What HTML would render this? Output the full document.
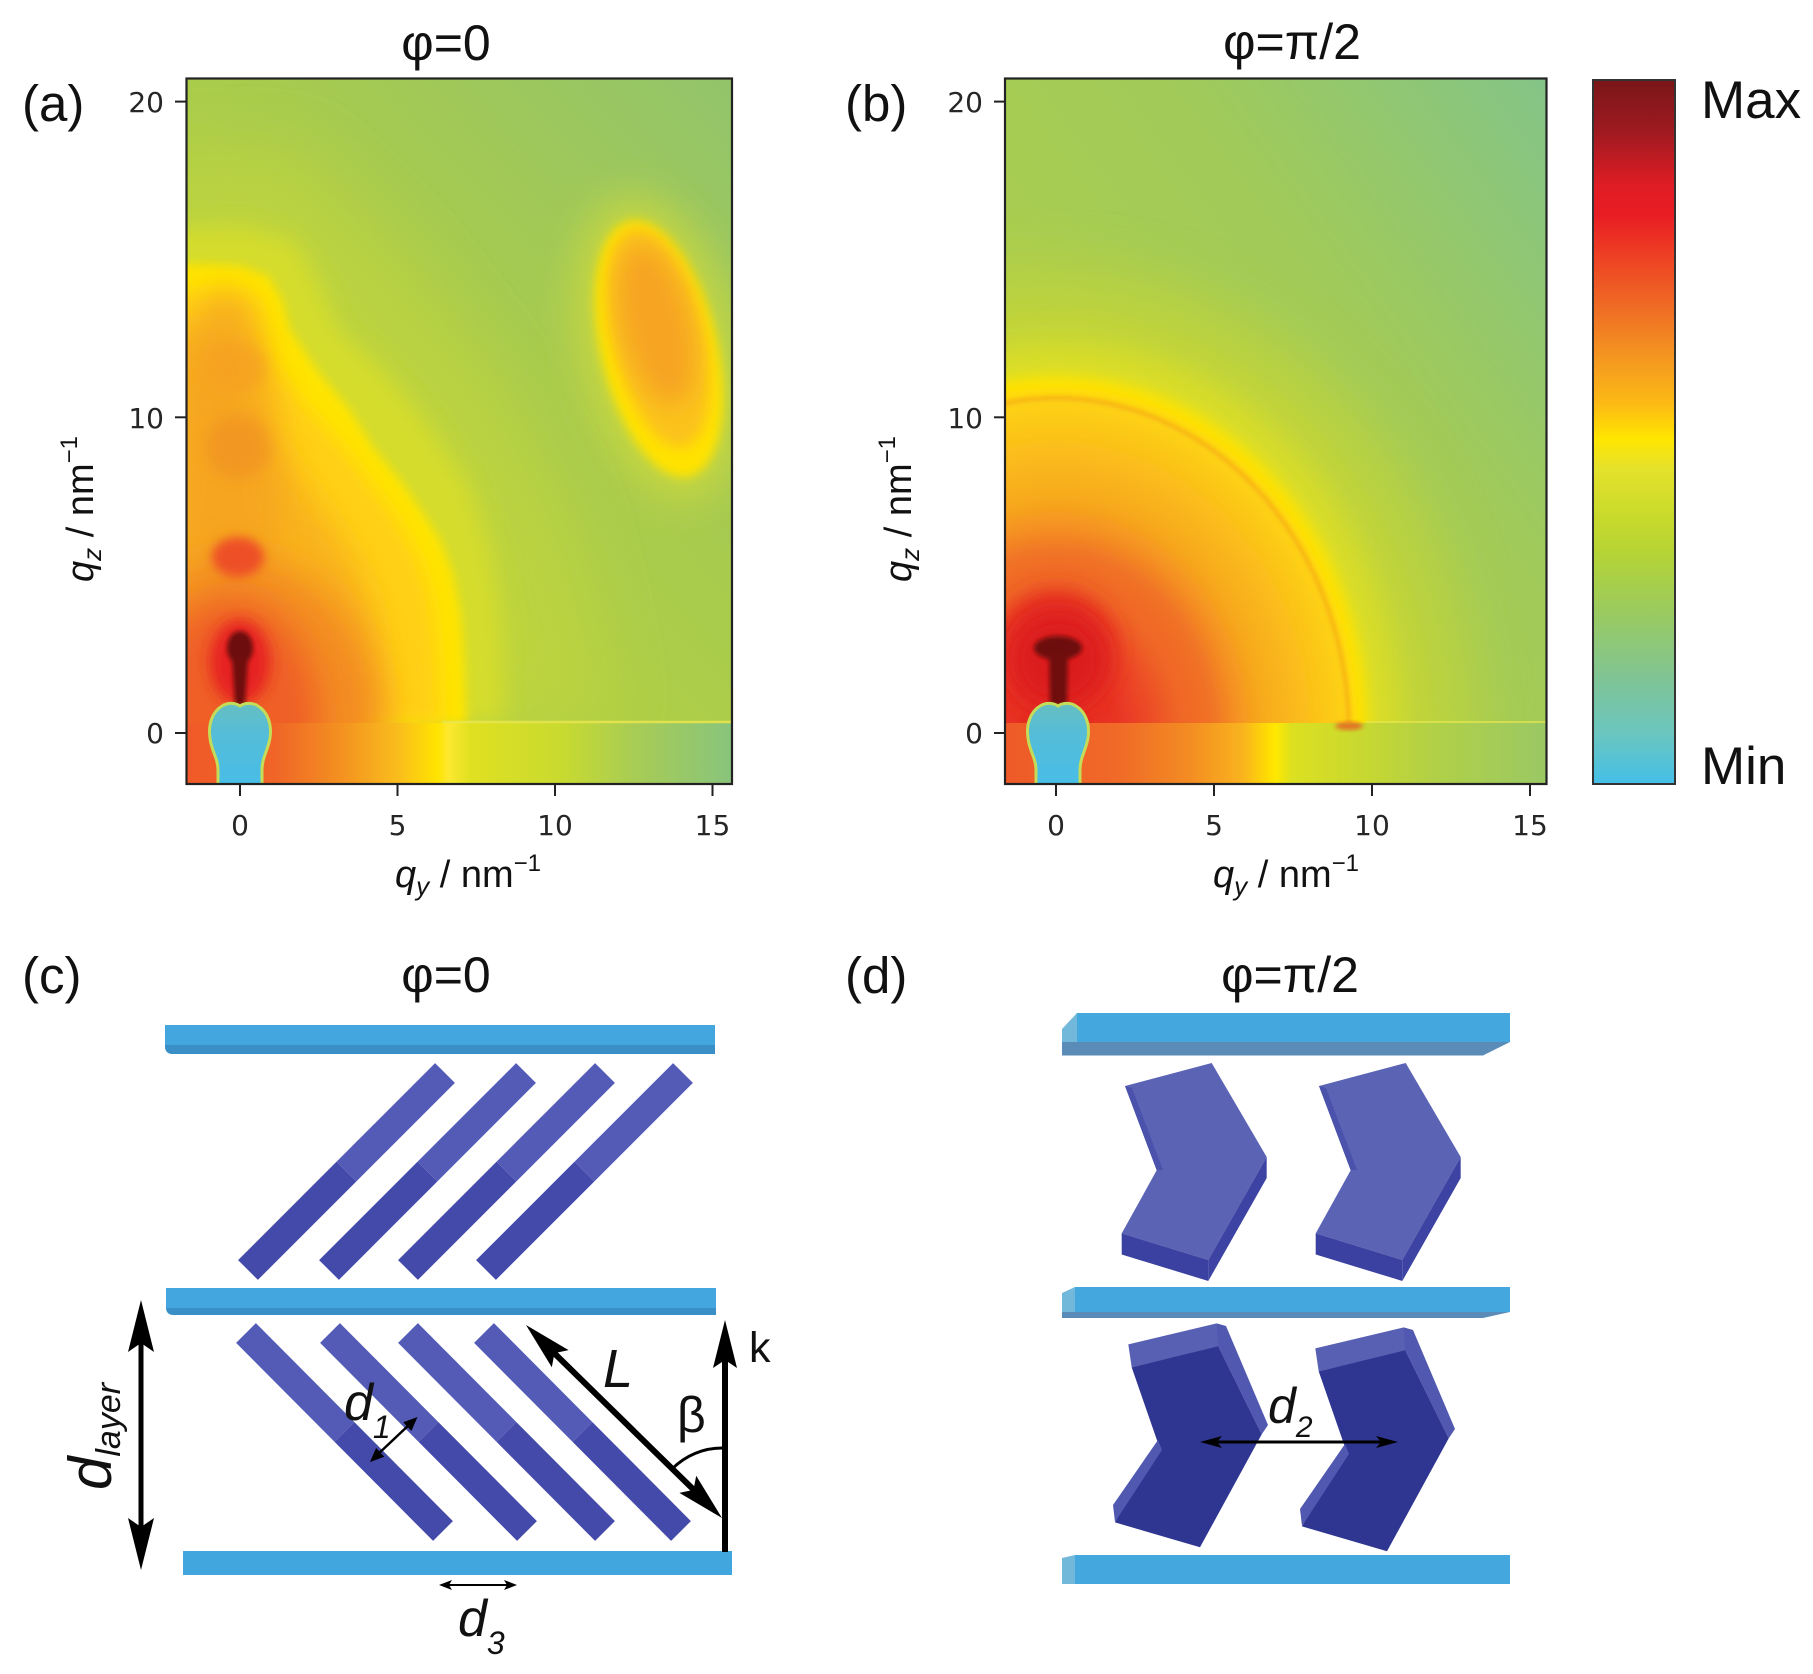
<!DOCTYPE html>
<html><head><meta charset="utf-8"><style>
html,body{margin:0;padding:0;background:#fff;overflow:hidden;}
svg{display:block;}
text{font-family:"Liberation Sans","DejaVu Sans",sans-serif;fill:#111;}
.tk{font-family:"DejaVu Sans","Liberation Sans",sans-serif;font-size:28px;fill:#262626;}
</style></head><body>
<svg width="1813" height="1674" viewBox="0 0 1813 1674" xmlns="http://www.w3.org/2000/svg">
<defs>
<clipPath id="clipA"><rect x="186.5" y="78.5" width="545.5" height="705.5"/></clipPath>
<clipPath id="clipB"><rect x="1005" y="78.5" width="541.5" height="705.5"/></clipPath>
<filter id="b2" x="-30%" y="-30%" width="160%" height="160%"><feGaussianBlur stdDeviation="2"/></filter>
<filter id="b3" x="-30%" y="-30%" width="160%" height="160%"><feGaussianBlur stdDeviation="3.5"/></filter>
<filter id="b5" x="-30%" y="-30%" width="160%" height="160%"><feGaussianBlur stdDeviation="5"/></filter>
<filter id="b7" x="-30%" y="-30%" width="160%" height="160%"><feGaussianBlur stdDeviation="7"/></filter>
<filter id="b10" x="-30%" y="-30%" width="160%" height="160%"><feGaussianBlur stdDeviation="10"/></filter>
<filter id="b12" x="-40%" y="-40%" width="180%" height="180%"><feGaussianBlur stdDeviation="12"/></filter>
<filter id="b16" x="-40%" y="-40%" width="180%" height="180%"><feGaussianBlur stdDeviation="16"/></filter>
<filter id="b20" x="-40%" y="-40%" width="180%" height="180%"><feGaussianBlur stdDeviation="20"/></filter>
<filter id="b30" x="-50%" y="-50%" width="200%" height="200%"><feGaussianBlur stdDeviation="30"/></filter>
<linearGradient id="baseA" x1="1" y1="0" x2="0.3" y2="0.85">
<stop offset="0" stop-color="#92c46c"/><stop offset="0.5" stop-color="#a8cb4e"/><stop offset="1" stop-color="#b6d23e"/></linearGradient>
<linearGradient id="baseB" x1="1" y1="0" x2="0.2" y2="0.75">
<stop offset="0" stop-color="#82c48a"/><stop offset="0.45" stop-color="#a0ca5a"/><stop offset="1" stop-color="#aece4a"/></linearGradient>
<linearGradient id="stripA" x1="186.5" y1="0" x2="732" y2="0" gradientUnits="userSpaceOnUse">
<stop offset="0" stop-color="#f05a28"/><stop offset="0.16" stop-color="#f06428"/><stop offset="0.28" stop-color="#f39020"/>
<stop offset="0.39" stop-color="#fabe1c"/><stop offset="0.46" stop-color="#ffe400"/><stop offset="0.48" stop-color="#fde830"/>
<stop offset="0.52" stop-color="#e0e020"/><stop offset="0.69" stop-color="#c8da30"/><stop offset="0.82" stop-color="#a8cc54"/>
<stop offset="1" stop-color="#88c47c"/></linearGradient>
<linearGradient id="stripB" x1="1005" y1="0" x2="1546.5" y2="0" gradientUnits="userSpaceOnUse">
<stop offset="0" stop-color="#ee5a28"/><stop offset="0.21" stop-color="#f06a28"/><stop offset="0.34" stop-color="#f38c22"/>
<stop offset="0.44" stop-color="#f9b41e"/><stop offset="0.49" stop-color="#ffe000"/><stop offset="0.5" stop-color="#ffe800"/>
<stop offset="0.53" stop-color="#dce020"/><stop offset="0.66" stop-color="#c8d830"/><stop offset="0.8" stop-color="#b0d048"/>
<stop offset="1" stop-color="#9ac864"/></linearGradient>
<radialGradient id="radB" cx="1056" cy="733" r="357" gradientUnits="userSpaceOnUse" gradientTransform="translate(1056 733) scale(0.874 1) translate(-1056 -733)">
<stop offset="0" stop-color="#e4281f"/><stop offset="0.2" stop-color="#e83424"/><stop offset="0.3" stop-color="#ec4a28"/>
<stop offset="0.4" stop-color="#f06828"/><stop offset="0.5" stop-color="#f07028"/><stop offset="0.56" stop-color="#f48a22"/>
<stop offset="0.65" stop-color="#f7a81e"/><stop offset="0.8" stop-color="#fbbe1a"/><stop offset="0.92" stop-color="#fdd016"/>
<stop offset="1" stop-color="#ffe000"/></radialGradient>
<linearGradient id="cyan" x1="0" y1="0" x2="0" y2="1">
<stop offset="0" stop-color="#66bec0"/><stop offset="0.35" stop-color="#55bdd8"/><stop offset="1" stop-color="#46bde8"/></linearGradient>
<linearGradient id="cbar" x1="0" y1="0" x2="0" y2="1">
<stop offset="0" stop-color="#7a1618"/><stop offset="0.07" stop-color="#9c1a20"/><stop offset="0.15" stop-color="#e01c24"/>
<stop offset="0.19" stop-color="#e81c24"/><stop offset="0.25" stop-color="#ee4024"/><stop offset="0.33" stop-color="#ef7024"/>
<stop offset="0.40" stop-color="#f59a20"/><stop offset="0.46" stop-color="#fcba14"/><stop offset="0.51" stop-color="#ffe600"/>
<stop offset="0.55" stop-color="#e6e22a"/><stop offset="0.62" stop-color="#c8da2c"/><stop offset="0.67" stop-color="#b6d434"/>
<stop offset="0.75" stop-color="#9ccb5c"/><stop offset="0.85" stop-color="#7fc494"/><stop offset="0.93" stop-color="#6ac6c0"/>
<stop offset="1" stop-color="#44bfe8"/></linearGradient>
</defs>
<rect width="1813" height="1674" fill="#fff"/>

<!-- ============ PANEL A heatmap ============ -->
<g clip-path="url(#clipA)">
<rect x="180" y="70" width="560" height="720" fill="url(#baseA)"/>
<polygon points="161,150 300,150 400,250 500,380 570,520 600,650 610,723.5 161,723.5" fill="#c4d63a" opacity="0.6" filter="url(#b30)"/>
<polygon points="161,228 245,226 295,240 318,280 340,330 375,360 410,400 440,440 470,485 490,545 500,600 503,650 505,723.5 161,723.5" fill="#d8de2a" opacity="0.9" filter="url(#b12)"/>
<polygon points="161,723.5 161,266 200,264 240,266 268,276 282,300 290,330 319,373 350,410 372.7,446.7 400,480 419,507 440,540 452.7,573 460,610 463,640 466,707 467,723.5" fill="#ffe400" filter="url(#b5)"/>
<polygon points="161,723.5 161,292 240,292 258,300 262,330 268,360 300,398 350,455 395,515 420,560 432,600 438,650 441,723.5" fill="#ffd012" filter="url(#b10)"/>
<polygon points="161,723.5 161,330 230,330 236,360 245,400 280,450 330,520 360,570 375,620 380,680 382,723.5" fill="#f9b41c" filter="url(#b16)"/>
<ellipse cx="225" cy="480" rx="55" ry="190" fill="#f4a020" opacity="0.7" filter="url(#b16)"/>
<ellipse cx="238" cy="447" rx="32" ry="32" fill="#f29424" opacity="0.8" filter="url(#b7)"/>
<ellipse cx="236" cy="367" rx="30" ry="25" fill="#f5a020" opacity="0.7" filter="url(#b7)"/>
<ellipse cx="240" cy="720" rx="140" ry="160" fill="#f38a22" filter="url(#b20)"/>
<ellipse cx="232" cy="720" rx="85" ry="120" fill="#ef5e28" filter="url(#b16)"/>
<ellipse cx="240" cy="662" rx="30" ry="42" fill="#e62222" filter="url(#b7)"/>
<ellipse cx="238" cy="557" rx="26" ry="20" fill="#ee5028" filter="url(#b5)"/>
<!-- upper right ellipse -->
<g transform="rotate(-13.3 659 349)">
<ellipse cx="659" cy="349" rx="80" ry="156" fill="#cfd93a" opacity="0.8" filter="url(#b20)"/>
<ellipse cx="659" cy="349" rx="58" ry="131" fill="#ffe200" filter="url(#b5)"/>
<ellipse cx="661" cy="338" rx="46" ry="112" fill="#fbc21c" filter="url(#b7)"/>
<ellipse cx="662" cy="325" rx="34" ry="82" fill="#f6a420" filter="url(#b12)"/>
</g>
<!-- beam stop / specular -->
<g filter="url(#b2)">
<ellipse cx="240" cy="648" rx="13" ry="17" fill="#6e1010"/>
<path d="M232 658 L248 658 L245 706 L235 706 Z" fill="#701010"/>
</g>
<!-- lower strip -->
<rect x="180" y="723" width="560" height="70" fill="url(#stripA)"/>
<line x1="442" y1="722" x2="735" y2="722" stroke="#ece850" stroke-width="2.5" opacity="0.8"/>
<path d="M222 706 C228 702,236 703,240 706 C244 703,252 702,258 706 C268 712,272 725,270 738 C268 750,262 758,262 770 L262 790 L218 790 L218 770 C218 758,211 750,210 738 C208 725,212 712,222 706 Z" fill="url(#cyan)" stroke="#c4dc58" stroke-width="3"/>
</g>
<rect x="186.5" y="78.5" width="545.5" height="705.5" fill="none" stroke="#222" stroke-width="2.2"/>

<!-- ============ PANEL B heatmap ============ -->
<g clip-path="url(#clipB)">
<rect x="1000" y="70" width="560" height="720" fill="url(#baseB)"/>
<ellipse cx="1056" cy="733" rx="415" ry="460" fill="#c6d636" opacity="0.75" filter="url(#b30)"/>
<ellipse cx="1056" cy="733" rx="345" ry="392" fill="#e2e024" opacity="0.8" filter="url(#b16)"/>
<ellipse cx="1056" cy="733" rx="312" ry="357" fill="#ffe400" filter="url(#b7)"/>
<ellipse cx="1056" cy="733" rx="300" ry="344" fill="url(#radB)" filter="url(#b7)"/>
<ellipse cx="1056" cy="733" rx="293" ry="335" fill="none" stroke="#ee7a26" stroke-width="4" opacity="0.4" filter="url(#b2)"/>
<ellipse cx="1056" cy="650" rx="60" ry="60" fill="#e42a22" filter="url(#b12)"/>
<ellipse cx="1058" cy="660" rx="48" ry="48" fill="#dc1c1e" filter="url(#b12)"/>
<g filter="url(#b2)">
<ellipse cx="1058" cy="648" rx="24" ry="12" fill="#6e1010"/>
<path d="M1049 652 L1068 652 L1067 706 L1050 706 Z" fill="#701010"/>
</g>
<rect x="1000" y="723" width="560" height="70" fill="url(#stripB)"/>
<line x1="1366" y1="722" x2="1550" y2="722" stroke="#e6e650" stroke-width="2" opacity="0.7"/>
<ellipse cx="1349" cy="726" rx="14" ry="4" fill="#e85a22" opacity="0.8" filter="url(#b2)"/>
<path d="M1040 706 C1046 702,1054 703,1058 706 C1062 703,1070 702,1076 706 C1086 712,1090 725,1088 738 C1086 750,1080 758,1080 770 L1080 790 L1036 790 L1036 770 C1036 758,1029 750,1028 738 C1026 725,1030 712,1040 706 Z" fill="url(#cyan)" stroke="#c4dc58" stroke-width="3"/>
</g>
<rect x="1005" y="78.5" width="541.5" height="705.5" fill="none" stroke="#222" stroke-width="2.2"/>

<!-- colorbar -->
<rect x="1593" y="80" width="82" height="704" fill="url(#cbar)" stroke="#333" stroke-width="2"/>
<text x="1701" y="118" font-size="53">Max</text>
<text x="1701" y="784" font-size="53">Min</text>

<!-- ticks -->
<g stroke="#222" stroke-width="2">
<line x1="175" y1="101.6" x2="186.5" y2="101.6"/><line x1="175" y1="417.3" x2="186.5" y2="417.3"/><line x1="175" y1="733" x2="186.5" y2="733"/>
<line x1="240" y1="784" x2="240" y2="796"/><line x1="397.5" y1="784" x2="397.5" y2="796"/><line x1="555" y1="784" x2="555" y2="796"/><line x1="712.5" y1="784" x2="712.5" y2="796"/>
<line x1="994" y1="101.6" x2="1005" y2="101.6"/><line x1="994" y1="417.3" x2="1005" y2="417.3"/><line x1="994" y1="733" x2="1005" y2="733"/>
<line x1="1056" y1="784" x2="1056" y2="796"/><line x1="1214" y1="784" x2="1214" y2="796"/><line x1="1372" y1="784" x2="1372" y2="796"/><line x1="1530" y1="784" x2="1530" y2="796"/>
</g>
<g class="tk">
<text class="tk" x="164" y="112" text-anchor="end">20</text>
<text class="tk" x="164" y="428" text-anchor="end">10</text>
<text class="tk" x="164" y="743" text-anchor="end">0</text>
<text class="tk" x="240" y="835" text-anchor="middle">0</text>
<text class="tk" x="397.5" y="835" text-anchor="middle">5</text>
<text class="tk" x="555" y="835" text-anchor="middle">10</text>
<text class="tk" x="712.5" y="835" text-anchor="middle">15</text>
<text class="tk" x="983" y="112" text-anchor="end">20</text>
<text class="tk" x="983" y="428" text-anchor="end">10</text>
<text class="tk" x="983" y="743" text-anchor="end">0</text>
<text class="tk" x="1056" y="835" text-anchor="middle">0</text>
<text class="tk" x="1214" y="835" text-anchor="middle">5</text>
<text class="tk" x="1372" y="835" text-anchor="middle">10</text>
<text class="tk" x="1530" y="835" text-anchor="middle">15</text>
</g>

<!-- axis labels -->
<text x="395" y="887" font-size="38"><tspan font-style="italic">q</tspan><tspan font-size="26" dy="8" font-style="italic">y</tspan><tspan dy="-8"> / nm</tspan><tspan font-size="24" dy="-16">−1</tspan></text>
<text x="1213" y="887" font-size="38"><tspan font-style="italic">q</tspan><tspan font-size="26" dy="8" font-style="italic">y</tspan><tspan dy="-8"> / nm</tspan><tspan font-size="24" dy="-16">−1</tspan></text>
<text transform="translate(93 582) rotate(-90)" font-size="38"><tspan font-style="italic">q</tspan><tspan font-size="26" dy="8" font-style="italic">z</tspan><tspan dy="-8"> / nm</tspan><tspan font-size="24" dy="-16">−1</tspan></text>
<text transform="translate(911 582) rotate(-90)" font-size="38"><tspan font-style="italic">q</tspan><tspan font-size="26" dy="8" font-style="italic">z</tspan><tspan dy="-8"> / nm</tspan><tspan font-size="24" dy="-16">−1</tspan></text>

<!-- titles & panel labels -->
<text x="446" y="60" font-size="50" text-anchor="middle">φ=0</text>
<text x="1292" y="59" font-size="50" text-anchor="middle">φ=π/2</text>
<text x="446" y="992" font-size="50" text-anchor="middle">φ=0</text>
<text x="1290" y="992" font-size="50" text-anchor="middle">φ=π/2</text>
<text x="22" y="121" font-size="51">(a)</text>
<text x="845" y="121" font-size="51">(b)</text>
<text x="22" y="993" font-size="51">(c)</text>
<text x="845" y="993" font-size="51">(d)</text>

<!-- ============ PANEL C ============ -->
<path d="M165 1025 H715 V1054 H173 Q165 1054 165 1046 Z" fill="#43a6de"/>
<path d="M165 1045 H715 V1054 H173 Q165 1054 165 1046 Z" fill="#3a8fc6"/>
<path d="M166 1288 H716 V1315 H174 Q166 1315 166 1307 Z" fill="#43a6de"/>
<path d="M166 1308 H716 V1315 H174 Q166 1315 166 1307 Z" fill="#3a8fc6"/>
<rect x="183" y="1551" width="549" height="24" fill="#42a6de"/>

<g>
<polygon points="-9.9,1260.1 9.9,1279.9 108.4,1181.4 88.6,1161.6" fill="#434aa9" transform="translate(248 0)"/>
<polygon points="88.6,1161.6 108.4,1181.4 206.9,1082.9 187.1,1063.1" fill="#535bb6" transform="translate(248 0)"/>
<polygon points="-9.9,1260.1 9.9,1279.9 108.4,1181.4 88.6,1161.6" fill="#434aa9" transform="translate(329 0)"/>
<polygon points="88.6,1161.6 108.4,1181.4 206.9,1082.9 187.1,1063.1" fill="#535bb6" transform="translate(329 0)"/>
<polygon points="-9.9,1260.1 9.9,1279.9 108.4,1181.4 88.6,1161.6" fill="#434aa9" transform="translate(408 0)"/>
<polygon points="88.6,1161.6 108.4,1181.4 206.9,1082.9 187.1,1063.1" fill="#535bb6" transform="translate(408 0)"/>
<polygon points="-9.9,1260.1 9.9,1279.9 108.4,1181.4 88.6,1161.6" fill="#434aa9" transform="translate(486 0)"/>
<polygon points="88.6,1161.6 108.4,1181.4 206.9,1082.9 187.1,1063.1" fill="#535bb6" transform="translate(486 0)"/>
</g>
<g>
<polygon points="9.9,1323.1 -9.9,1342.9 88.6,1441.9 108.4,1422.1" fill="#535bb6" transform="translate(246 0)"/>
<polygon points="88.6,1441.9 108.4,1422.1 206.9,1521.1 187.1,1540.9" fill="#434aa9" transform="translate(246 0)"/>
<polygon points="9.9,1323.1 -9.9,1342.9 88.6,1441.9 108.4,1422.1" fill="#535bb6" transform="translate(330 0)"/>
<polygon points="88.6,1441.9 108.4,1422.1 206.9,1521.1 187.1,1540.9" fill="#434aa9" transform="translate(330 0)"/>
<polygon points="9.9,1323.1 -9.9,1342.9 88.6,1441.9 108.4,1422.1" fill="#535bb6" transform="translate(408 0)"/>
<polygon points="88.6,1441.9 108.4,1422.1 206.9,1521.1 187.1,1540.9" fill="#434aa9" transform="translate(408 0)"/>
<polygon points="9.9,1323.1 -9.9,1342.9 88.6,1441.9 108.4,1422.1" fill="#535bb6" transform="translate(484 0)"/>
<polygon points="88.6,1441.9 108.4,1422.1 206.9,1521.1 187.1,1540.9" fill="#434aa9" transform="translate(484 0)"/>
</g>

<!-- d_layer arrow -->
<line x1="141" y1="1340" x2="141" y2="1530" stroke="#000" stroke-width="5"/>
<polygon points="141,1300 128,1352 141,1343 154,1352" fill="#000"/>
<polygon points="141,1570 128,1518 141,1527 154,1518" fill="#000"/>
<text transform="translate(111 1490) rotate(-90)" font-size="60" font-style="italic">d<tspan font-size="34" dy="9">layer</tspan></text>

<!-- k arrow -->
<line x1="725" y1="1360" x2="725" y2="1552" stroke="#000" stroke-width="6"/>
<polygon points="725,1320 713,1368 725,1360 737,1368" fill="#000"/>
<text x="749" y="1362" font-size="43">k</text>

<!-- L arrow -->
<line x1="550" y1="1349" x2="698" y2="1494" stroke="#000" stroke-width="6"/>
<polygon points="526,1325 551.8,1367.2 554.5,1353.1 568.6,1350.1" fill="#000"/>
<polygon points="722,1518 679.4,1492.9 693.5,1489.9 696.2,1475.8" fill="#000"/>
<text x="603" y="1387" font-size="54" font-style="italic">L</text>

<!-- beta arc -->
<path d="M672.5 1468.5 A70 70 0 0 1 722 1448" fill="none" stroke="#000" stroke-width="3"/>
<text x="677" y="1432" font-size="50">β</text>

<!-- d1 -->
<line x1="376" y1="1456" x2="411" y2="1423" stroke="#000" stroke-width="2.5"/>
<polygon points="370,1462 384.3,1456.8 380.2,1452.4 376.1,1448" fill="#000"/>
<polygon points="417.5,1417 411.4,1431 407.3,1426.6 403.2,1422.2" fill="#000"/>
<text x="344" y="1420" font-size="52" font-style="italic">d<tspan font-size="32" dy="18">1</tspan></text>

<!-- d3 -->
<line x1="447" y1="1585" x2="509" y2="1585" stroke="#000" stroke-width="2"/>
<polygon points="439,1585 452,1580 449,1585 452,1590" fill="#000"/>
<polygon points="517,1585 504,1580 507,1585 504,1590" fill="#000"/>
<text x="458" y="1636" font-size="52" font-style="italic">d<tspan font-size="32" dy="18">3</tspan></text>

<!-- ============ PANEL D ============ -->
<rect x="1077" y="1013" width="433" height="29" fill="#44a7de"/>
<polygon points="1062,1042 1510,1042 1483,1055.5 1062,1055.5" fill="#5b8cb8"/>
<polygon points="1062,1029 1077,1013 1077,1042 1062,1042" fill="#72b8da"/>
<rect x="1075" y="1287" width="435" height="25" fill="#44a7de"/>
<polygon points="1062,1312 1510,1312 1483,1318 1062,1318" fill="#5b8cb8"/>
<polygon points="1062,1293 1075,1287 1075,1312 1062,1312" fill="#72b8da"/>
<rect x="1075" y="1555" width="435" height="29" fill="#44a7de"/>
<polygon points="1062,1558 1075,1555 1075,1584 1062,1584" fill="#72b8da"/>

<g>
<polygon points="1125,1086 1211.7,1063 1266.7,1157 1208.3,1260 1121.7,1233.4 1156.7,1170.3" fill="#5a63b4"/>
<polygon points="1266.7,1157 1266.7,1178 1208.3,1281 1208.3,1260" fill="#3c43a2"/>
<polygon points="1121.7,1233.4 1208.3,1260 1208.3,1281 1121.7,1254.5" fill="#3a41a0"/>
<polygon points="1125,1086 1132,1088 1163,1170 1156.7,1170.3" fill="#4a52ac"/>
</g>
<g transform="translate(194 0)">
<polygon points="1125,1086 1211.7,1063 1266.7,1157 1208.3,1260 1121.7,1233.4 1156.7,1170.3" fill="#5a63b4"/>
<polygon points="1266.7,1157 1266.7,1178 1208.3,1281 1208.3,1260" fill="#3c43a2"/>
<polygon points="1121.7,1233.4 1208.3,1260 1208.3,1281 1121.7,1254.5" fill="#3a41a0"/>
<polygon points="1125,1086 1132,1088 1163,1170 1156.7,1170.3" fill="#4a52ac"/>
</g>
<g>
<polygon points="1128.3,1344.4 1216.7,1323.4 1221.7,1346.3 1131.7,1367.4" fill="#5760b2"/>
<polygon points="1216.7,1323.4 1226,1326 1268,1425 1261.7,1434.4 1218.3,1346.3" fill="#5058b0"/>
<polygon points="1131.7,1367.4 1218.3,1346.3 1261.7,1434.4 1200,1547.3 1115,1522.4 1158.3,1444" fill="#2f3691"/>
<polygon points="1158,1440 1113,1505 1115,1522 1162,1450" fill="#5058b0"/>
</g>
<g transform="translate(187 4)">
<polygon points="1128.3,1344.4 1216.7,1323.4 1221.7,1346.3 1131.7,1367.4" fill="#5760b2"/>
<polygon points="1216.7,1323.4 1226,1326 1268,1425 1261.7,1434.4 1218.3,1346.3" fill="#5058b0"/>
<polygon points="1131.7,1367.4 1218.3,1346.3 1261.7,1434.4 1200,1547.3 1115,1522.4 1158.3,1444" fill="#2f3691"/>
<polygon points="1158,1440 1113,1505 1115,1522 1162,1450" fill="#5058b0"/>
</g>
<!-- d2 -->
<line x1="1212" y1="1442" x2="1386" y2="1442" stroke="#000" stroke-width="3"/>
<polygon points="1200,1442 1222,1436 1217,1442 1222,1448" fill="#000"/>
<polygon points="1398,1442 1376,1436 1381,1442 1376,1448" fill="#000"/>
<text x="1268" y="1423" font-size="50" font-style="italic">d<tspan font-size="30" dy="14">2</tspan></text>
</svg>
</body></html>
